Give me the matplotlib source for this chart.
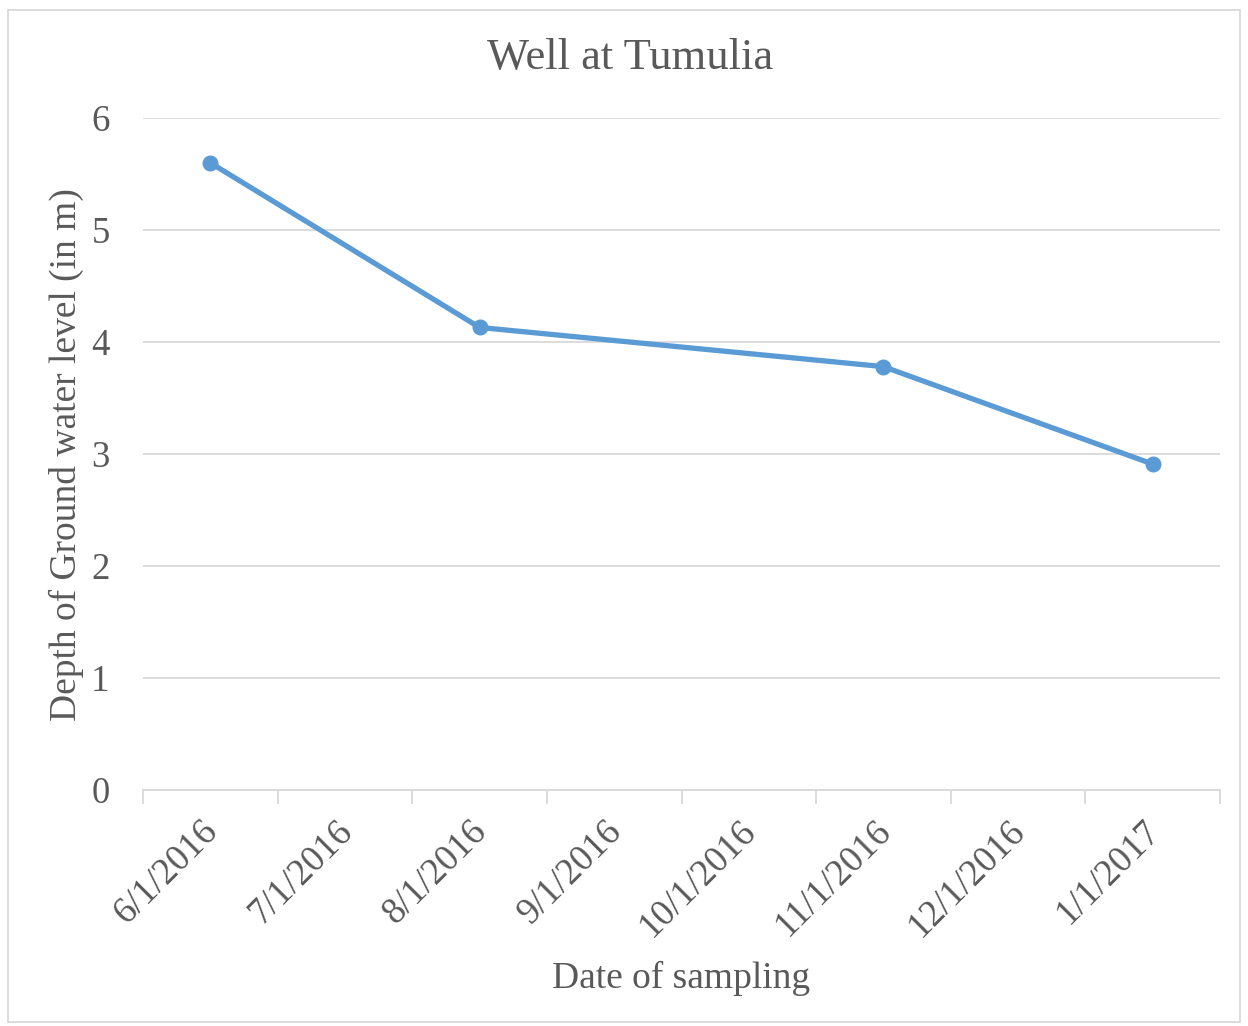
import matplotlib.pyplot as plt
import matplotlib.patches as mpatches
import matplotlib.transforms as mtransforms
import numpy as np

plt.rcParams["font.family"] = ["Liberation Serif", "DejaVu Serif"]

# axis categories (monthly date axis)
months = ["6/1/2016", "7/1/2016", "8/1/2016", "9/1/2016",
          "10/1/2016", "11/1/2016", "12/1/2016", "1/1/2017"]
# sampling dates and depth of ground water level (m)
sample_dates = ["6/1/2016", "8/1/2016", "11/1/2016", "1/1/2017"]
depth = [5.6, 4.13, 3.78, 2.91]
y_ticks = [0, 1, 2, 3, 4, 5, 6]

TEXT = "#595959"
GRID = "#D9D9D9"
LINE = "#5B9BD5"

x_pos = [months.index(d) for d in sample_dates]

fig = plt.figure(figsize=(12.48, 10.26), dpi=100)
ax = fig.add_axes([143 / 1248, 1 - 790 / 1026, (1220 - 143) / 1248, (790 - 118) / 1026])

ax.plot(x_pos, depth, color=LINE, linewidth=3.8, marker="o", markersize=10.5,
        solid_capstyle="round", zorder=3)

ax.set_xlim(-0.5, len(months) - 0.5)
ax.set_ylim(0, 6)
ax.set_yticks(y_ticks)
ax.grid(axis="y", color=GRID, linewidth=1.3)
ax.set_axisbelow(True)

ax.set_xticks(np.arange(-0.5, len(months), 1.0))
ax.set_xticklabels([])
ax.set_xticks(np.arange(len(months)), minor=True)
ax.set_xticklabels(months, minor=True, rotation=45, ha="right", va="top",
                   rotation_mode="anchor", fontsize=26.5, color=TEXT)
ax.tick_params(axis="x", which="major", length=10, width=1.3, color=GRID)
ax.tick_params(axis="x", which="minor", length=0, pad=20)
ax.tick_params(axis="y", length=0, labelsize=26.5, labelcolor=TEXT, pad=24)

# nudge rotated date labels to sit like the Excel ones
shift = mtransforms.ScaledTranslation(-10 / 100, 4 / 100, fig.dpi_scale_trans)
for lab in ax.get_xticklabels(minor=True):
    lab.set_transform(lab.get_transform() + shift)

for s in ["top", "right", "left"]:
    ax.spines[s].set_visible(False)
ax.spines["bottom"].set_color(GRID)
ax.spines["bottom"].set_linewidth(1.3)

fig.text(66 / 1248, 1 - 455 / 1026, "Depth of Ground water level (in m)", fontsize=27,
         color=TEXT, rotation=90, ha="center", va="center")
fig.text(681 / 1248, 1 - 978 / 1026, "Date of sampling", fontsize=27, color=TEXT,
         ha="center", va="center")
fig.text(630 / 1248, 1 - 58 / 1026, "Well at Tumulia", fontsize=32, color=TEXT,
         ha="center", va="center")

fig.patches.append(mpatches.Rectangle((8 / 1248, 4 / 1026), 1232 / 1248, 1012 / 1026,
                                      transform=fig.transFigure, fill=False,
                                      edgecolor=GRID, linewidth=1.3))

fig.savefig("out.png", dpi=100)
